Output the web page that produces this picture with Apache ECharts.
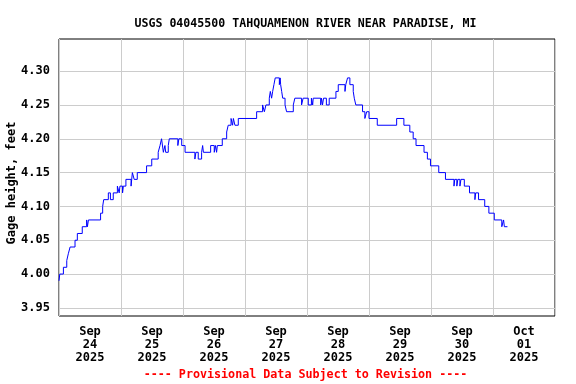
<!DOCTYPE html>
<html><head><meta charset="utf-8">
<script src="https://cdn.jsdelivr.net/npm/echarts@6/dist/echarts.min.js"></script>
<style>html,body{margin:0;padding:0;background:#fff}#c{width:576px;height:384px}</style>
</head><body><div id="c"></div>
<script>
// Hours since 2025-09-24 00:00 when gage height changes, and the new value (ft)
const hours = [0,0.3,1.7,3.0,3.6,4.3,6.2,7.1,9.0,10.7,11.0,11.4,16.1,16.9,17.3,19.1,19.9,21.0,22.6,23.3,23.6,24.6,24.9,25.9,27.9,28.4,29.1,30.3,33.9,35.9,38.4,39.1,39.7,40.4,41.0,41.3,42.3,42.7,46.0,46.4,47.5,48.8,52.6,53.0,53.9,55.2,55.6,55.9,58.7,60.1,60.6,61.0,61.3,63.2,64.9,65.5,66.6,67.2,67.5,68.1,69.4,76.5,78.8,79.5,80.1,81.4,81.8,82.3,82.7,83.2,83.7,85.3,85.6,85.8,86.2,86.6,87.5,88.1,90.7,91.3,93.9,94.5,96.5,97.7,98.2,98.4,101.3,101.6,102.0,102.4,103.5,104.6,107.2,108.1,110.7,111.0,111.7,112.6,113.9,114.3,114.9,117.5,118.4,119.1,120.0,123.2,130.7,133.5,135.8,137.1,138.2,141.3,142.6,143.8,147.0,149.6,152.9,153.2,154.0,154.4,155.2,155.6,156.9,158.9,161.0,161.3,162.4,164.8,166.4,168.5,171.4,172.1,172.4,173.6];
const gage = [3.99,4.00,4.01,4.02,4.03,4.04,4.05,4.06,4.07,4.08,4.07,4.08,4.09,4.10,4.11,4.12,4.11,4.12,4.13,4.12,4.13,4.12,4.13,4.14,4.13,4.15,4.14,4.15,4.16,4.17,4.18,4.19,4.20,4.18,4.19,4.18,4.19,4.20,4.19,4.20,4.19,4.18,4.17,4.18,4.17,4.18,4.19,4.18,4.19,4.18,4.19,4.18,4.19,4.20,4.21,4.22,4.23,4.22,4.23,4.22,4.23,4.24,4.25,4.24,4.25,4.26,4.27,4.26,4.27,4.28,4.29,4.28,4.29,4.28,4.27,4.26,4.25,4.24,4.25,4.26,4.25,4.26,4.25,4.26,4.25,4.26,4.25,4.26,4.25,4.26,4.25,4.26,4.27,4.28,4.27,4.28,4.29,4.28,4.27,4.26,4.25,4.24,4.23,4.24,4.23,4.22,4.23,4.22,4.21,4.20,4.19,4.18,4.17,4.16,4.15,4.14,4.13,4.14,4.13,4.14,4.13,4.14,4.13,4.12,4.11,4.12,4.11,4.10,4.09,4.08,4.07,4.08,4.07,4.07];
const dayLabels = ['Sep\n24\n2025','Sep\n25\n2025','Sep\n26\n2025','Sep\n27\n2025','Sep\n28\n2025','Sep\n29\n2025','Sep\n30\n2025','Oct\n01\n2025'];
const yTicks = [3.95,4.00,4.05,4.10,4.15,4.20,4.25,4.30];

const font = '"DejaVu Sans Mono", "Liberation Mono", monospace';
const chart = echarts.init(document.getElementById('c'), null, {renderer:'canvas'});
chart.setOption({
  animation:false,
  backgroundColor:'#fff',
  title:{text:'USGS 04045500 TAHQUAMENON RIVER NEAR PARADISE, MI', left:300.5, top:13, textAlign:'center',
    textStyle:{fontFamily:font, fontWeight:'bold', fontSize:11.6, color:'#000'}},
  graphic:[
    {type:'text', x:305.5, y:375, style:{text:'---- Provisional Data Subject to Revision ----', fill:'#ff0000', font:'bold 11.7px '+font, textAlign:'center', textVerticalAlign:'middle'}},
    {type:'text', x:12, y:183, rotation:Math.PI/2, style:{text:'Gage height, feet', fill:'#000', font:'bold 12px '+font, textAlign:'center', textVerticalAlign:'middle'}}
  ],
  grid:{left:59, right:21, top:39, bottom:68, containLabel:false, outerBoundsMode:'none', show:true, borderColor:'#000', borderWidth:1, backgroundColor:'transparent'},
  xAxis:[
    {type:'category', data:dayLabels, boundaryGap:true, position:'bottom',
     axisLine:{show:false}, axisTick:{show:false},
     axisLabel:{fontFamily:font, fontWeight:'bold', fontSize:12, color:'#000', lineHeight:13, margin:9, interval:0},
     splitLine:{show:true, interval:0, lineStyle:{color:'#cccccc', width:1}}},
    {type:'value', min:0, max:192, show:false}
  ],
  yAxis:{type:'value', min:3.938, max:4.3475,
    axisLine:{show:false},
    axisTick:{show:false, customValues:yTicks},
    axisLabel:{customValues:yTicks, fontFamily:font, fontWeight:'bold', fontSize:12, color:'#000', margin:9,
      formatter:v=>v.toFixed(2)},
    splitLine:{show:true, lineStyle:{color:'#cccccc', width:1}}},
  series:[{type:'line', xAxisIndex:1, step:'end', showSymbol:false, symbol:'none',
    lineStyle:{color:'#0000ff', width:1},
    data:hours.map((h,i)=>[h,gage[i]])}]
});
</script></body></html>
